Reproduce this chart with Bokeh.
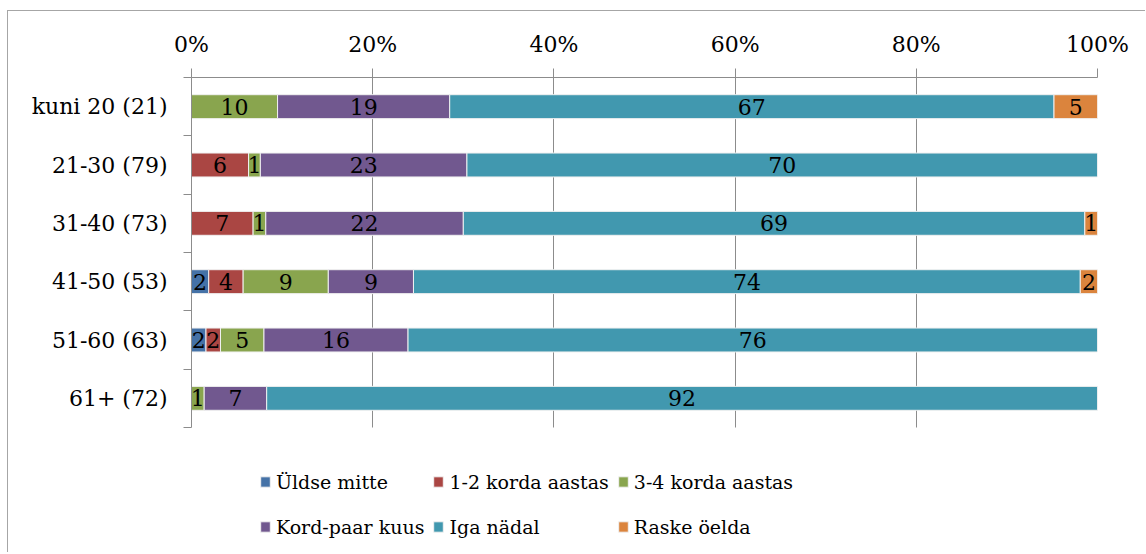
from bokeh.plotting import figure
from bokeh.models import (ColumnDataSource, Range1d, LinearAxis,
                          FixedTicker, Legend, LegendItem)
from bokeh.core.properties import value
from bokeh.embed import file_html
from bokeh.resources import INLINE

# ---- data ----
categories = ["kuni 20 (21)", "21-30 (79)", "31-40 (73)", "41-50 (53)", "51-60 (63)", "61+ (72)"]
series_names = ["Üldse mitte", "1-2 korda aastas", "3-4 korda aastas",
                "Kord-paar kuus", "Iga nädal", "Raske öelda"]
uldse_mitte = [0.0, 0.0, 0.0, 1.9, 1.6, 0.0]
korda_1_2 = [0.0, 6.3, 6.8, 3.8, 1.6, 0.0]
korda_3_4 = [9.5, 1.3, 1.4, 9.4, 4.8, 1.4]
kord_paar_kuus = [19.0, 22.8, 21.8, 9.4, 15.9, 6.9]
iga_nadal = [66.7, 69.6, 68.6, 73.6, 76.1, 91.7]
raske_oelda = [4.8, 0.0, 1.4, 1.9, 0.0, 0.0]
x_ticks = [0, 20, 40, 60, 80, 100]
x_tick_labels = ["0%", "20%", "40%", "60%", "80%", "100%"]

colors = ["#4572A7", "#AA4643", "#89A54E", "#71588F", "#4198AF", "#DB843D"]
FONT = "DejaVu Serif"
GRID = "#8c8c8c"

n = len(categories)
ypos = [n - i - 0.5 for i in range(n)]   # first category at the top

keys = ["s0", "s1", "s2", "s3", "s4", "s5"]
all_series = [uldse_mitte, korda_1_2, korda_3_4, kord_paar_kuus, iga_nadal, raske_oelda]
data = {"y": ypos}
for k, s in zip(keys, all_series):
    data[k] = s
src = ColumnDataSource(data)

# layout (pixels): bars area 350px tall, legend area 126px below it inside the frame
BARS_H = 350.0
LEGEND_H = 126.0
y_bottom = -LEGEND_H * n / BARS_H

p = figure(width=1138, height=542,
           x_range=Range1d(0, 100), y_range=Range1d(y_bottom, n),
           x_axis_location="above", y_axis_location=None,
           output_backend="svg", toolbar_location=None,
           min_border_left=183, min_border_right=49,
           min_border_top=66, min_border_bottom=0)
p.outline_line_color = None
p.background_fill_color = "white"
p.border_fill_color = "white"
p.styles = {"border-top": "1px solid #a6a6a6", "border-left": "1px solid #a6a6a6",
            "margin-top": "10px", "margin-left": "7px"}

renderers = p.hbar_stack(keys, y="y", height=0.41, color=colors, source=src,
                         line_color="#f0f0f0", line_width=1)

# data labels
lx, ly, lt = [], [], []
for i in range(n):
    acc = 0.0
    for s in all_series:
        v = s[i]
        if v > 0:
            lx.append(acc + v / 2.0)
            ly.append(ypos[i])
            lt.append(str(int(v + 0.5)))
        acc += v
lab_src = ColumnDataSource(dict(x=lx, y=ly, t=lt))
p.text(x="x", y="y", text="t", source=lab_src, text_align="center", text_baseline="middle",
       text_font=value(FONT), text_font_size="22px", text_color="black")

# top axis
xa = p.xaxis[0]
xa.ticker = FixedTicker(ticks=x_ticks)
xa.major_label_overrides = {t: l for t, l in zip(x_ticks, x_tick_labels)}
xa.major_label_text_font = FONT
xa.major_label_text_font_size = "22px"
xa.major_label_text_color = "black"
xa.major_tick_in = 0
xa.major_tick_out = 9
xa.minor_tick_out = 0
xa.minor_tick_in = 0
xa.axis_line_color = GRID
xa.major_tick_line_color = GRID
xa.major_label_standoff = 12

p.xgrid.ticker = FixedTicker(ticks=x_ticks)
p.xgrid.grid_line_color = GRID
p.xgrid.cross_bounds = (0, n)
p.ygrid.visible = False

# left axis: tick marks between categories
tick_axis = LinearAxis(ticker=FixedTicker(ticks=list(range(n + 1))), bounds=(0, n),
                       major_label_text_font_size="1px", major_label_text_color=None,
                       major_label_standoff=0,
                       major_tick_out=8, major_tick_in=0, minor_tick_out=0, minor_tick_in=0,
                       axis_line_color=GRID, major_tick_line_color=GRID)
p.add_layout(tick_axis, "left")
cat_axis = LinearAxis(ticker=FixedTicker(ticks=ypos),
                      major_label_overrides={y: c for y, c in zip(ypos, categories)},
                      axis_line_color=None, major_tick_line_color=None, minor_tick_line_color=None,
                      major_tick_out=0, major_tick_in=0, minor_tick_out=0, minor_tick_in=0,
                      major_label_text_font=FONT, major_label_text_font_size="22px",
                      major_label_text_color="black", major_label_standoff=16)
p.add_layout(cat_axis, "left")

# legend (inside the lower, empty part of the frame); 3 columns x 2 rows, filled row-wise
items_all = [LegendItem(label=nm, renderers=[r]) for nm, r in zip(series_names, renderers)]
ncols = 3
order = [r * ncols + c for c in range(ncols) for r in range(2)]  # column-major fill -> row-wise reading
items = [items_all[i] for i in order]
legend = Legend(items=items, ncols=ncols, location=(68, 8),
                label_text_font=FONT, label_text_font_size="19px", label_text_color="black",
                glyph_width=12, glyph_height=13, label_standoff=5,
                label_height=37, spacing=8, padding=0, margin=0,
                border_line_color=None, background_fill_alpha=0)
p.add_layout(legend, "center")

open("out.html", "w").write(file_html(p, INLINE))
